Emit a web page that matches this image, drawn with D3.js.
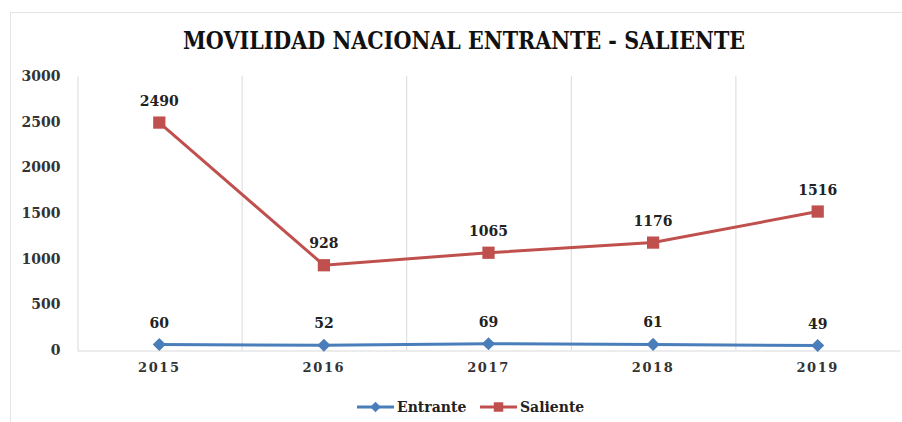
<!DOCTYPE html>
<html>
<head>
<meta charset="utf-8">
<script src="https://cdn.jsdelivr.net/npm/d3@7"></script>
<style>
  body { margin: 0; background: #fff; }
  svg text { font-family: "DejaVu Serif", "Liberation Serif", serif; fill: #222; }
</style>
</head>
<body>
<div id="chart"></div>
<script>
// DATA
const years = ["2015", "2016", "2017", "2018", "2019"];
const entrante = [60, 52, 69, 61, 49];
const saliente = [2490, 928, 1065, 1176, 1516];
const yTicks = [0, 500, 1000, 1500, 2000, 2500, 3000];

const W = 902, H = 422;
const margin = {left: 77, right: 2, top: 76, bottom: 72};

const svg = d3.select("#chart").append("svg")
    .attr("width", W)
    .attr("height", H);

// chart frame
svg.append("rect")
    .attr("x", 10.5).attr("y", 12.5)
    .attr("width", W).attr("height", H)
    .attr("fill", "none")
    .attr("stroke", "#e4e4e4");

// title
svg.append("text")
    .attr("x", 464).attr("y", 49)
    .attr("text-anchor", "middle")
    .attr("font-size", 25)
    .attr("font-weight", "bold")
    .attr("textLength", 562)
    .attr("lengthAdjust", "spacingAndGlyphs")
    .style("font-family", "'DejaVu Serif Condensed', 'DejaVu Serif', serif")
    .style("fill", "#111")
    .text("MOVILIDAD NACIONAL ENTRANTE - SALIENTE");

// scales
const x = d3.scaleBand()
    .domain(years)
    .range([margin.left, W - margin.right]);

const y = d3.scaleLinear()
    .domain([0, 3000])
    .range([H - margin.bottom, margin.top]);

// vertical gridlines between categories
svg.append("g")
    .selectAll("line")
    .data(years.slice(1))
    .enter().append("line")
    .attr("x1", d => x(d) + 0.5).attr("x2", d => x(d) + 0.5)
    .attr("y1", y(3000)).attr("y2", y(0))
    .attr("stroke", "#d9d9d9");

// y axis
const yAxis = svg.append("g")
    .attr("transform", `translate(${margin.left + 0.5},0)`)
    .call(d3.axisLeft(y).tickValues(yTicks).tickFormat(d3.format("d")).tickSize(0).tickPadding(17));
yAxis.select(".domain").attr("stroke", "#d9d9d9");
yAxis.selectAll("text")
    .attr("font-size", 14)
    .attr("font-weight", "bold")
    .style("font-family", "'DejaVu Serif', serif")
    .style("fill", "#333");

// x axis
const xAxis = svg.append("g")
    .attr("transform", `translate(0,${y(0) + 0.5})`)
    .call(d3.axisBottom(x).tickSize(0).tickPadding(12));
xAxis.select(".domain").attr("stroke", "#d9d9d9");
xAxis.selectAll("text")
    .attr("font-size", 13)
    .attr("font-weight", "bold")
    .attr("letter-spacing", 1.6)
    .style("font-family", "'DejaVu Serif', serif")
    .style("fill", "#333");

const cx = d => x(d) + x.bandwidth() / 2;

const series = [
    {name: "Entrante", values: entrante, color: "#4a7ebb", marker: "diamond"},
    {name: "Saliente", values: saliente, color: "#c0504d", marker: "square"}
];

const line = d3.line()
    .x((d, i) => cx(years[i]))
    .y(d => y(d));

series.forEach(s => {
    svg.append("path")
        .datum(s.values)
        .attr("d", line)
        .attr("fill", "none")
        .attr("stroke", s.color)
        .attr("stroke-width", 3);

    const sym = s.marker === "diamond"
        ? d3.symbol().type(d3.symbolDiamond2).size(110)
        : d3.symbol().type(d3.symbolSquare).size(150);

    svg.append("g")
        .selectAll("path")
        .data(s.values)
        .enter().append("path")
        .attr("d", sym)
        .attr("transform", (d, i) => `translate(${cx(years[i])},${y(d)})`)
        .attr("fill", s.color);

    // data labels
    svg.append("g")
        .selectAll("text")
        .data(s.values)
        .enter().append("text")
        .attr("x", (d, i) => cx(years[i]))
        .attr("y", d => y(d) - 17)
        .attr("text-anchor", "middle")
        .attr("font-size", 14)
        .attr("font-weight", "bold")
        .text(d => d);
});

// legend
const legend = svg.append("g");
const legendX = [357, 480];
series.forEach((s, i) => {
    const lx = legendX[i], ly = 407;
    legend.append("line")
        .attr("x1", lx).attr("x2", lx + 37)
        .attr("y1", ly).attr("y2", ly)
        .attr("stroke", s.color)
        .attr("stroke-width", 3);
    legend.append("path")
        .attr("d", s.marker === "diamond"
            ? d3.symbol().type(d3.symbolDiamond2).size(70)()
            : d3.symbol().type(d3.symbolSquare).size(90)())
        .attr("transform", `translate(${lx + 18.5},${ly})`)
        .attr("fill", s.color);
    legend.append("text")
        .attr("x", lx + 40).attr("y", ly + 5)
        .attr("font-size", 14)
        .attr("font-weight", "bold")
        .text(s.name);
});
</script>
</body>
</html>
